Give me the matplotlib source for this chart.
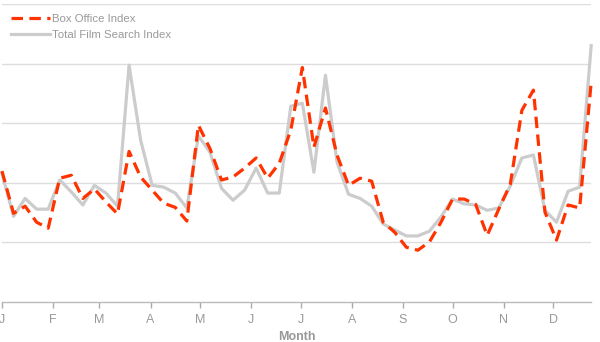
import matplotlib
matplotlib.use("Agg")
import matplotlib.pyplot as plt

plt.rcParams['font.family'] = ['Liberation Sans', 'DejaVu Sans']

# Weekly index values (day offset from Jan 1)
days = [7 * i for i in range(52)]

box_office = [2.20, 1.49, 1.61, 1.34, 1.24, 2.08, 2.13, 1.74, 1.90, 1.68,
              1.48, 2.53, 2.10, 1.88, 1.66, 1.59, 1.36, 2.97, 2.58, 2.05,
              2.10, 2.25, 2.42, 2.08, 2.33, 2.89, 3.94, 2.60, 3.26, 2.47,
              1.96, 2.08, 2.03, 1.34, 1.17, 0.92, 0.87, 1.01, 1.34, 1.73,
              1.73, 1.64, 1.12, 1.56, 1.98, 3.22, 3.56, 1.51, 1.04, 1.63,
              1.58, 3.69]

film_search = [2.16, 1.44, 1.74, 1.56, 1.56, 2.05, 1.85, 1.63, 1.96, 1.83,
               1.61, 3.98, 2.72, 1.96, 1.93, 1.83, 1.58, 2.79, 2.52, 1.91,
               1.71, 1.88, 2.25, 1.83, 1.83, 3.29, 3.34, 2.18, 3.81, 2.35,
               1.81, 1.74, 1.61, 1.31, 1.21, 1.11, 1.11, 1.19, 1.43, 1.73,
               1.65, 1.63, 1.54, 1.58, 1.95, 2.42, 2.47, 1.54, 1.34, 1.86,
               1.93, 4.31]

month_starts = [0, 31, 59, 90, 120, 151, 181, 212, 243, 273, 304, 334]
month_labels = ['J', 'F', 'M', 'A', 'M', 'J', 'J', 'A', 'S', 'O', 'N', 'D']

fig = plt.figure(figsize=(6.0, 3.42), dpi=100)
ax = fig.add_axes([0.0033, 0.117, 0.982, 0.870])

ax.plot(days, box_office, color='#ff3300', lw=2.3, ls=(0, (3.6, 2.0)),
        label='Box Office Index', zorder=3, clip_on=False)
ax.plot(days, film_search, color='#cccccc', lw=2.3,
        label='Total Film Search Index', zorder=2, clip_on=False)

ax.set_xlim(0, 357)
ax.set_ylim(0, 5)
ax.set_yticks([1, 2, 3, 4, 5])
ax.yaxis.grid(True, color='#dddddd', lw=1.0)
ax.set_axisbelow(True)
ax.tick_params(axis='y', left=False, labelleft=False)

ax.set_xticks(month_starts)
ax.set_xticklabels(month_labels)
ax.tick_params(axis='x', colors='#aaaaaa', length=4, width=1, labelsize=9,
               pad=5, labelcolor='#999999')
ax.set_xlabel('Month', color='#999999', fontsize=9, fontweight='bold',
              labelpad=3)

for side in ['top', 'left', 'right']:
    ax.spines[side].set_visible(False)
ax.spines['bottom'].set_color('#bbbbbb')
ax.spines['bottom'].set_linewidth(1.0)

leg = ax.legend(loc='upper left', frameon=False, fontsize=8.2,
                handlelength=3.5, handletextpad=0.15, labelspacing=0.5,
                borderaxespad=0.35, bbox_to_anchor=(0.0, 0.995))
for t in leg.get_texts():
    t.set_color('#999999')

fig.savefig('out.png', dpi=100)
